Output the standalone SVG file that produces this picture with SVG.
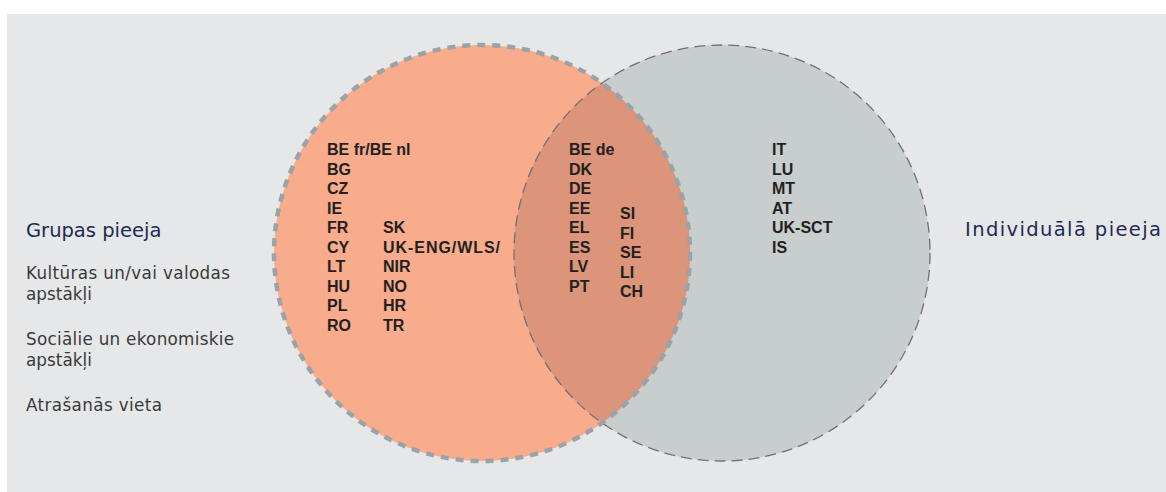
<svg xmlns="http://www.w3.org/2000/svg" width="1166" height="492" viewBox="0 0 1166 492">
<style>
.code{font-family:"Liberation Sans",Arial,sans-serif;font-weight:bold;font-size:16px;fill:#231f20}
.title{font-family:"DejaVu Sans",sans-serif;font-size:19.5px;fill:#1c2b55}
.sub{font-family:"DejaVu Sans",sans-serif;font-size:16.8px;fill:#3a3a3a}
</style>
<rect x="0" y="0" width="1166" height="492" fill="#ffffff"/>
<rect id="background" x="7" y="14" width="1159" height="478" fill="#e6e7e8"/>
<g id="individual-circle">
<circle cx="722" cy="253" r="208" fill="#c8cdcd"/>
</g>
<g id="group-circle">
<circle cx="482" cy="253" r="208" fill="#f8ac8c"/>
</g>
<g id="overlap">
<path d="M602,83 A208,208 0 0,1 602,423 A208,208 0 0,1 602,83 Z" fill="#dc947a"/>
</g>
<g id="outlines">
<circle cx="722" cy="253" r="208" fill="none" stroke="#6f7173" stroke-width="1.3" stroke-dasharray="11 6"/>
<circle cx="482" cy="253" r="208" fill="none" stroke="#9aa3a7" stroke-width="4.5" stroke-dasharray="8 7"/>
</g>
<g id="group-codes">
<text class="code" x="327" y="155">BE fr/BE nl</text>
<text class="code" x="327" y="174.5">BG</text>
<text class="code" x="327" y="194">CZ</text>
<text class="code" x="327" y="213.5">IE</text>
<text class="code" x="327" y="233">FR</text>
<text class="code" x="327" y="252.5">CY</text>
<text class="code" x="327" y="272">LT</text>
<text class="code" x="327" y="291.5">HU</text>
<text class="code" x="327" y="311">PL</text>
<text class="code" x="327" y="330.5">RO</text>
<text class="code" x="383" y="233">SK</text>
<text class="code" x="383" y="252.5" textLength="117" lengthAdjust="spacing">UK-ENG/WLS/</text>
<text class="code" x="383" y="272">NIR</text>
<text class="code" x="383" y="291.5">NO</text>
<text class="code" x="383" y="311">HR</text>
<text class="code" x="383" y="330.5">TR</text>
</g>
<g id="overlap-codes">
<text class="code" x="569" y="155">BE de</text>
<text class="code" x="569" y="174.5">DK</text>
<text class="code" x="569" y="194">DE</text>
<text class="code" x="569" y="213.5">EE</text>
<text class="code" x="569" y="233">EL</text>
<text class="code" x="569" y="252.5">ES</text>
<text class="code" x="569" y="272">LV</text>
<text class="code" x="569" y="291.5">PT</text>
<text class="code" x="620" y="219">SI</text>
<text class="code" x="620" y="238.5">FI</text>
<text class="code" x="620" y="258">SE</text>
<text class="code" x="620" y="277.5">LI</text>
<text class="code" x="620" y="297">CH</text>
</g>
<g id="individual-codes">
<text class="code" x="772" y="155">IT</text>
<text class="code" x="772" y="174.5">LU</text>
<text class="code" x="772" y="194">MT</text>
<text class="code" x="772" y="213.5">AT</text>
<text class="code" x="772" y="233">UK-SCT</text>
<text class="code" x="772" y="252.5">IS</text>
</g>
<g id="group-label">
<text class="title" x="26" y="237">Grupas pieeja</text>
<text class="sub" x="26" y="279" textLength="204" lengthAdjust="spacing">Kultūras un/vai valodas</text>
<text class="sub" x="26" y="300" textLength="66" lengthAdjust="spacing">apstākļi</text>
<text class="sub" x="26" y="345" textLength="208" lengthAdjust="spacing">Sociālie un ekonomiskie</text>
<text class="sub" x="26" y="366" textLength="66" lengthAdjust="spacing">apstākļi</text>
<text class="sub" x="26" y="411" textLength="136" lengthAdjust="spacing">Atrašanās vieta</text>
</g>
<g id="individual-label">
<text class="title" x="965" y="236" textLength="196" lengthAdjust="spacing" font-size="20.5">Individuālā pieeja</text>
</g>
</svg>
